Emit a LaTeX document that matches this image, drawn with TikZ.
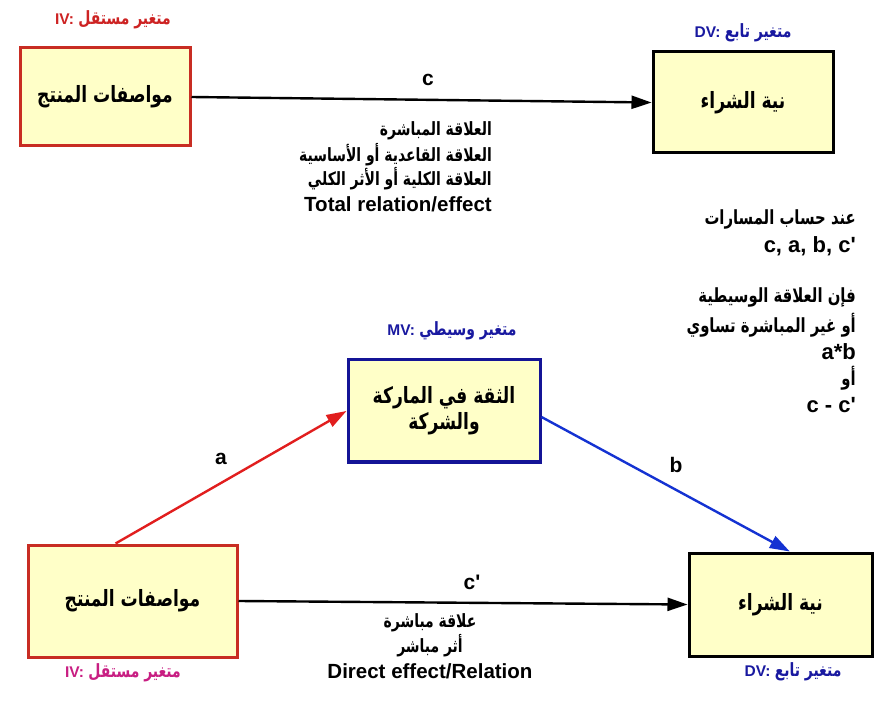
\documentclass[tikz,border=0pt]{standalone}
\usepackage{fontspec}
\usepackage{graphicx}
\setmainfont{Liberation Sans}
\newfontfamily\ar[Script=Arabic]{DejaVu Sans Condensed}
\TeXXeTstate=1
\usetikzlibrary{arrows.meta,calc}
\newcommand\arv[1]{\scalebox{1}[1.18]{\beginR #1\endR}}
\definecolor{boxfill}{RGB}{255,255,200}
\definecolor{ivred}{RGB}{200,45,35}
\definecolor{ivlab}{RGB}{205,35,35}
\definecolor{ivmag}{RGB}{200,30,130}
\definecolor{navy}{RGB}{25,25,160}
\definecolor{mvblue}{RGB}{20,20,150}
\definecolor{arrblue}{RGB}{20,50,210}
\definecolor{arrred}{RGB}{225,30,30}
\tikzset{
  vbox/.style={draw, line width=3pt, fill=boxfill, inner sep=0pt, align=center, font=\ar\bfseries\fontsize{19}{28}\selectfont},
  conn/.style={line width=2.4pt, -{Triangle[length=20pt,width=13pt]}},
  lab/.style={font=\bfseries\fontsize{21}{24}\selectfont, inner sep=0pt},
  vlab/.style={font=\bfseries\fontsize{15.5}{18}\selectfont, inner sep=0pt},
  txt/.style={font=\ar\bfseries\fontsize{15.5}{18}\selectfont, inner sep=0pt, anchor=east},
  eng/.style={font=\bfseries\fontsize{20.5}{22}\selectfont, inner sep=0pt},
  big/.style={font=\bfseries\fontsize{22}{24}\selectfont, inner sep=0pt, anchor=east},
  bigar/.style={font=\ar\bfseries\fontsize{16.5}{20}\selectfont, inner sep=0pt, anchor=east},
}
\begin{document}
\begin{tikzpicture}[x=1pt,y=-1pt]
\useasboundingbox (0,0) rectangle (895,711);
% boxes
\node[vbox, draw=ivred, minimum width=170pt, minimum height=98pt] (iv1) at (105,97) {\arv{مواصفات المنتج}};
\node[vbox, draw=black, minimum width=180pt, minimum height=101pt] (dv1) at (743,102.5) {\arv{نية الشراء}};
\node[vbox, draw=mvblue, minimum width=192pt, minimum height=102pt] (mv) at (444,411) {\arv{الثقة في الماركة}\\[-2pt]\arv{والشركة}};
\node[vbox, draw=ivred, minimum width=209pt, minimum height=112pt] (iv2) at (132.5,601) {\arv{مواصفات المنتج}};
\node[vbox, draw=black, minimum width=183pt, minimum height=103pt] (dv2) at (780.5,604.5) {\arv{نية الشراء}};
% variable labels
\node[vlab, text=ivlab] (l1) at (113,20) {IV: {\ar\arv{متغير مستقل}}};
\node[vlab, text=navy] (l2) at (743,33) {DV: {\ar\arv{متغير تابع}}};
\node[vlab, text=navy] (l3) at (452,331) {MV: {\ar\arv{متغير وسيطي}}};
\node[vlab, text=ivmag] (l4) at (123,673) {IV: {\ar\arv{متغير مستقل}}};
\node[vlab, text=navy] (l5) at (793,672) {DV: {\ar\arv{متغير تابع}}};
% connectors
\draw[conn] (iv1.east) -- (dv1.west);
\draw[conn] (iv2.east) -- (dv2.west);
\draw[conn, arrred] ($(iv2.north west)!0.42!(iv2.north east)$) -- (mv.west);
\draw[conn, arrblue] ($(mv.east)+(0,6)$) -- ($(dv2.north west)!0.55!(dv2.north east)$);
% path labels
\node[lab] (c) at (428,80) {c};
\node[lab] (cp) at (472,582) {c\textquotesingle};
\node[lab] (a) at (221,459) {a};
\node[lab] (b) at (676,465) {b};
% total effect text
\node[txt] (t1) at (492,131) {\arv{العلاقة المباشرة}};
\node[txt] (t2) at (492,155) {\arv{العلاقة القاعدية أو الأساسية}};
\node[txt] (t3) at (492,179) {\arv{العلاقة الكلية أو الأثر الكلي}};
\node[eng, anchor=east] (t4) at (492,204) {Total relation/effect};
% direct effect text
\node[txt, anchor=center] (d1) at (430,623) {\arv{علاقة مباشرة}};
\node[txt, anchor=center] (d2) at (430,646) {\arv{أثر مباشر}};
\node[eng] (d3) at (430,671) {Direct effect/Relation};
% right block
\node[bigar] (r1) at (856,219) {\arv{عند حساب المسارات}};
\node[big] (r2) at (856,246) {c, a, b, c\textquotesingle};
\node[bigar] (r3) at (856,297) {\arv{فإن العلاقة الوسيطية}};
\node[bigar] (r4) at (856,325) {\arv{أو غير المباشرة تساوي}};
\node[big] (r5) at (856,352) {a*b};
\node[bigar] (r6) at (856,378) {\arv{أو}};
\node[big] (r7) at (856,405) {c - c\textquotesingle};
\end{tikzpicture}
\end{document}
